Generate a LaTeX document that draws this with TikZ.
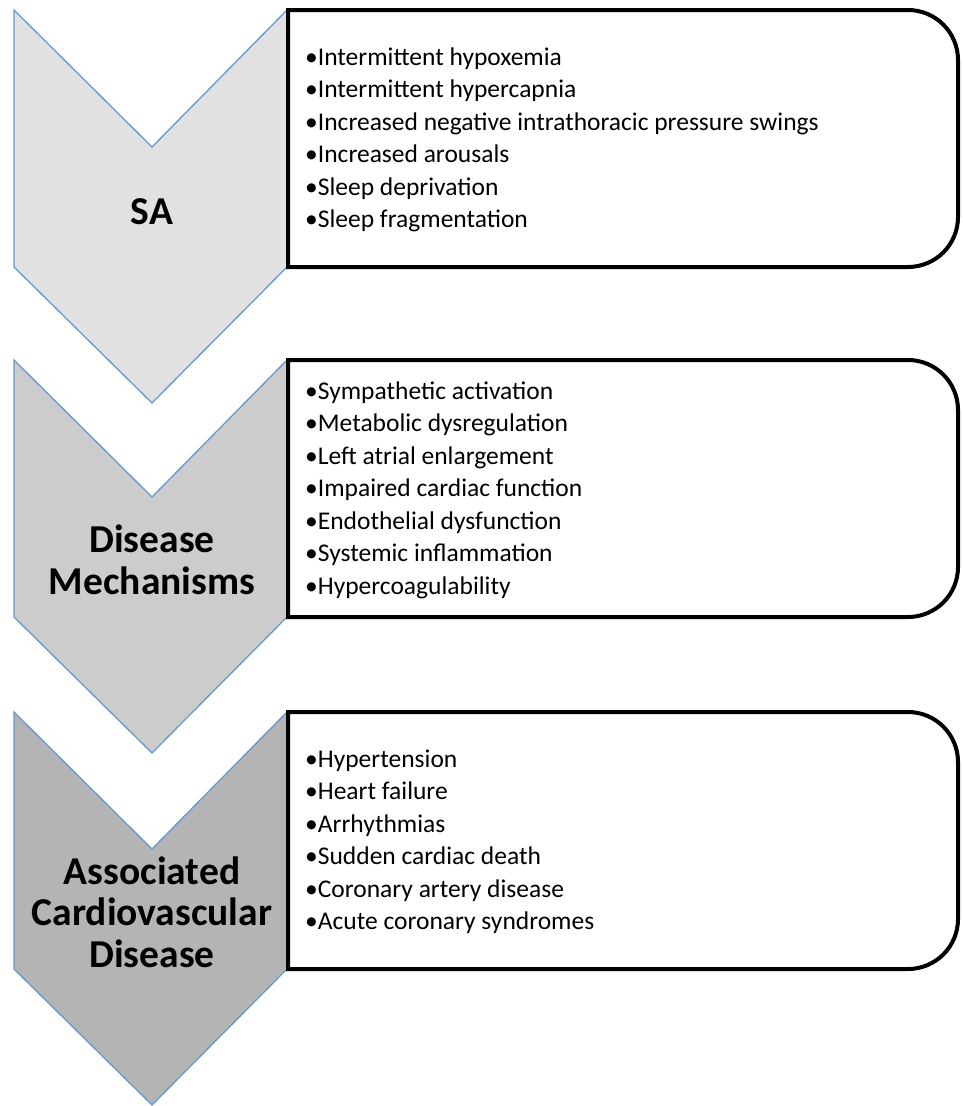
\documentclass[tikz,border=0pt]{standalone}
\usepackage{fontspec}
\setmainfont{Carlito}
\begin{document}
\begin{tikzpicture}[x=1pt,y=1pt,
  chev/.style={draw=chevblue, line width=1.3pt, line join=miter},
  listbox/.style={draw=black, line width=4pt, fill=white, line join=miter},
  head/.style={font=\fontsize{39.5}{41.5}\selectfont\bfseries, align=center, inner sep=0pt},
  items/.style={font=\fontsize{25.5}{32.5}\selectfont, align=left, anchor=west, inner sep=0pt}]
\definecolor{chevblue}{RGB}{100,152,212}
\definecolor{grayA}{RGB}{225,225,225}
\definecolor{grayB}{RGB}{204,204,204}
\definecolor{grayC}{RGB}{180,180,180}
\useasboundingbox (0,0) rectangle (962,-1106);
% chevrons
\foreach \dy/\col in {0/grayA,350/grayB,702/grayC}{
  \path[chev, fill=\col] (14,-10-\dy) -- (152,-147-\dy) -- (287,-10-\dy)
     -- (287,-267-\dy) -- (152,-403-\dy) -- (14,-267-\dy) -- cycle;
}
% boxes
\foreach \dy in {0,350,702}{
  \path[listbox] (288,-10-\dy) -- (908,-10-\dy)
     arc[start angle=90,end angle=0,radius=50pt] -- (958,-217-\dy)
     arc[start angle=0,end angle=-90,radius=50pt] -- (288,-267-\dy) -- cycle;
}
% headings
\node[head] (h1) at (152,-212) {SA};
\node[head] (h2) at (152,-560) {Disease\\Mechanisms};
\node[head] (h3) at (152,-912) {Associated\\Cardiovascular\\Disease};
% lists
\node[items] (l1) at (305,-140) {•Intermittent hypoxemia\\•Intermittent hypercapnia\\•Increased negative intrathoracic pressure swings\\•Increased arousals\\•Sleep deprivation\\•Sleep fragmentation};
\node[items] (l2) at (305,-490) {•Sympathetic activation\\•Metabolic dysregulation\\•Left atrial enlargement\\•Impaired cardiac function\\•Endothelial dysfunction\\•Systemic inflammation\\•Hypercoagulability};
\node[items] (l3) at (305,-842) {•Hypertension\\•Heart failure\\•Arrhythmias\\•Sudden cardiac death\\•Coronary artery disease\\•Acute coronary syndromes};
\end{tikzpicture}
\end{document}
